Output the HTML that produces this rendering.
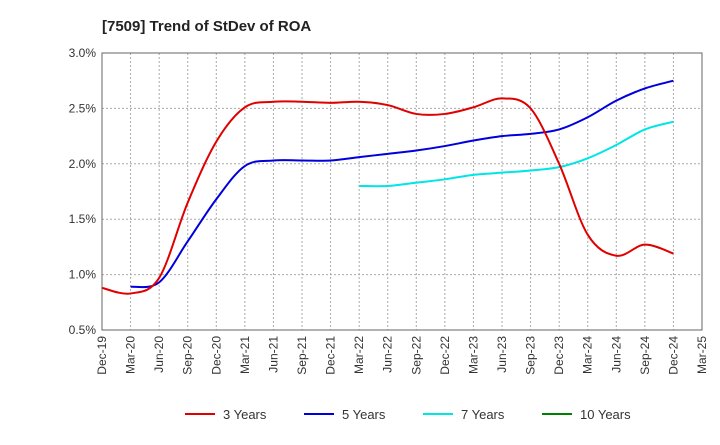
<!DOCTYPE html>
<html><head><meta charset="utf-8"><style>
body{margin:0;background:#fff;font-family:"Liberation Sans",Arial,sans-serif}
</style></head><body>
<svg id="chart" width="720" height="440" xmlns="http://www.w3.org/2000/svg" font-family="Liberation Sans, Arial, sans-serif">
<text x="102" y="31" font-size="15" font-weight="bold" fill="#222">[7509]  Trend of StDev of ROA</text>
<g id="grid"></g><g id="axes"></g><g id="series"></g><g id="legend"></g>
</svg>
<script>
const xLabels=["Dec-19","Mar-20","Jun-20","Sep-20","Dec-20","Mar-21","Jun-21","Sep-21","Dec-21","Mar-22","Jun-22","Sep-22","Dec-22","Mar-23","Jun-23","Sep-23","Dec-23","Mar-24","Jun-24","Sep-24","Dec-24","Mar-25"];
const yTicks=[0.5,1.0,1.5,2.0,2.5,3.0];
const s3=[0.88,0.83,0.97,1.65,2.2,2.51,2.56,2.56,2.55,2.56,2.53,2.45,2.45,2.51,2.59,2.5,2.0,1.36,1.17,1.27,1.19];
const s5=[null,0.89,0.93,1.3,1.68,1.98,2.03,2.03,2.03,2.06,2.09,2.12,2.16,2.21,2.25,2.27,2.31,2.42,2.57,2.68,2.75];
const s7=[null,null,null,null,null,null,null,null,null,1.80,1.80,1.83,1.86,1.90,1.92,1.94,1.97,2.05,2.17,2.31,2.38];
const s10=[];
const ns="http://www.w3.org/2000/svg";
const L=102,R=702,T=53,B=330;
const X=i=>L+i*(R-L)/(xLabels.length-1);
const Y=v=>B-(v-0.5)/2.5*(B-T);
function mk(tag,attrs,parent){const e=document.createElementNS(ns,tag);for(const k in attrs)e.setAttribute(k,attrs[k]);document.getElementById(parent).appendChild(e);return e;}
xLabels.forEach((lb,i)=>{
 const g=mk("line",{x1:X(i),x2:X(i),y1:T,y2:B,stroke:"#aaa","stroke-dasharray":"2,2"},"grid");
 
 
 const t=mk("text",{transform:`translate(${X(i)+4},${B+6}) rotate(-90)`,"text-anchor":"end","font-size":"12",fill:"#333"},"axes");
 t.textContent=lb;
 
 
});
yTicks.forEach(v=>{
 const g=mk("line",{x1:L,x2:R,y1:Y(v),y2:Y(v),stroke:"#aaa","stroke-dasharray":"2,2"},"grid");
 
 
 const t=mk("text",{x:L-6,y:Y(v)+4,"text-anchor":"end","font-size":"12",fill:"#333"},"axes");
 t.textContent=v.toFixed(1)+"%";
 
 
});
const fr=mk("rect",{x:L,y:T,width:R-L,height:B-T,fill:"none",stroke:"#666"},"axes");


function path(data,color,name){
 const p=[];data.forEach((v,i)=>{if(v!=null)p.push([X(i),Y(v)]);});
 if(p.length<2)return;
 let d=`M${p[0][0]},${p[0][1]}`;
 for(let i=0;i<p.length-1;i++){
  const p0=p[i-1]||p[i],p1=p[i],p2=p[i+1],p3=p[i+2]||p2;
  const c1=[p1[0]+(p2[0]-p0[0])/6,p1[1]+(p2[1]-p0[1])/6];
  const c2=[p2[0]-(p3[0]-p1[0])/6,p2[1]-(p3[1]-p1[1])/6];
  d+=`C${c1[0]},${c1[1]} ${c2[0]},${c2[1]} ${p2[0]},${p2[1]}`;
 }
 const e=mk("path",{d,fill:"none",stroke:color,"stroke-width":"2"},"series");
 
 
}
path(s7,"#00e5e5","line-7-years");
path(s5,"#0000dd","line-5-years");
path(s3,"#e00000","line-3-years");
path(s10,"#008000","line-10-years");
const leg=[["3 Years","#e00000",185],["5 Years","#0000dd",304],["7 Years","#00e5e5",423],["10 Years","#008000",542]];
leg.forEach(([lb,c,x])=>{
 const l=mk("line",{x1:x,x2:x+30,y1:414,y2:414,stroke:c,"stroke-width":"2"},"legend");
 
 
 const t=mk("text",{x:x+38,y:419,"font-size":"13",fill:"#333"},"legend");
 t.textContent=lb;
 
 
});
</script>
</body></html>
